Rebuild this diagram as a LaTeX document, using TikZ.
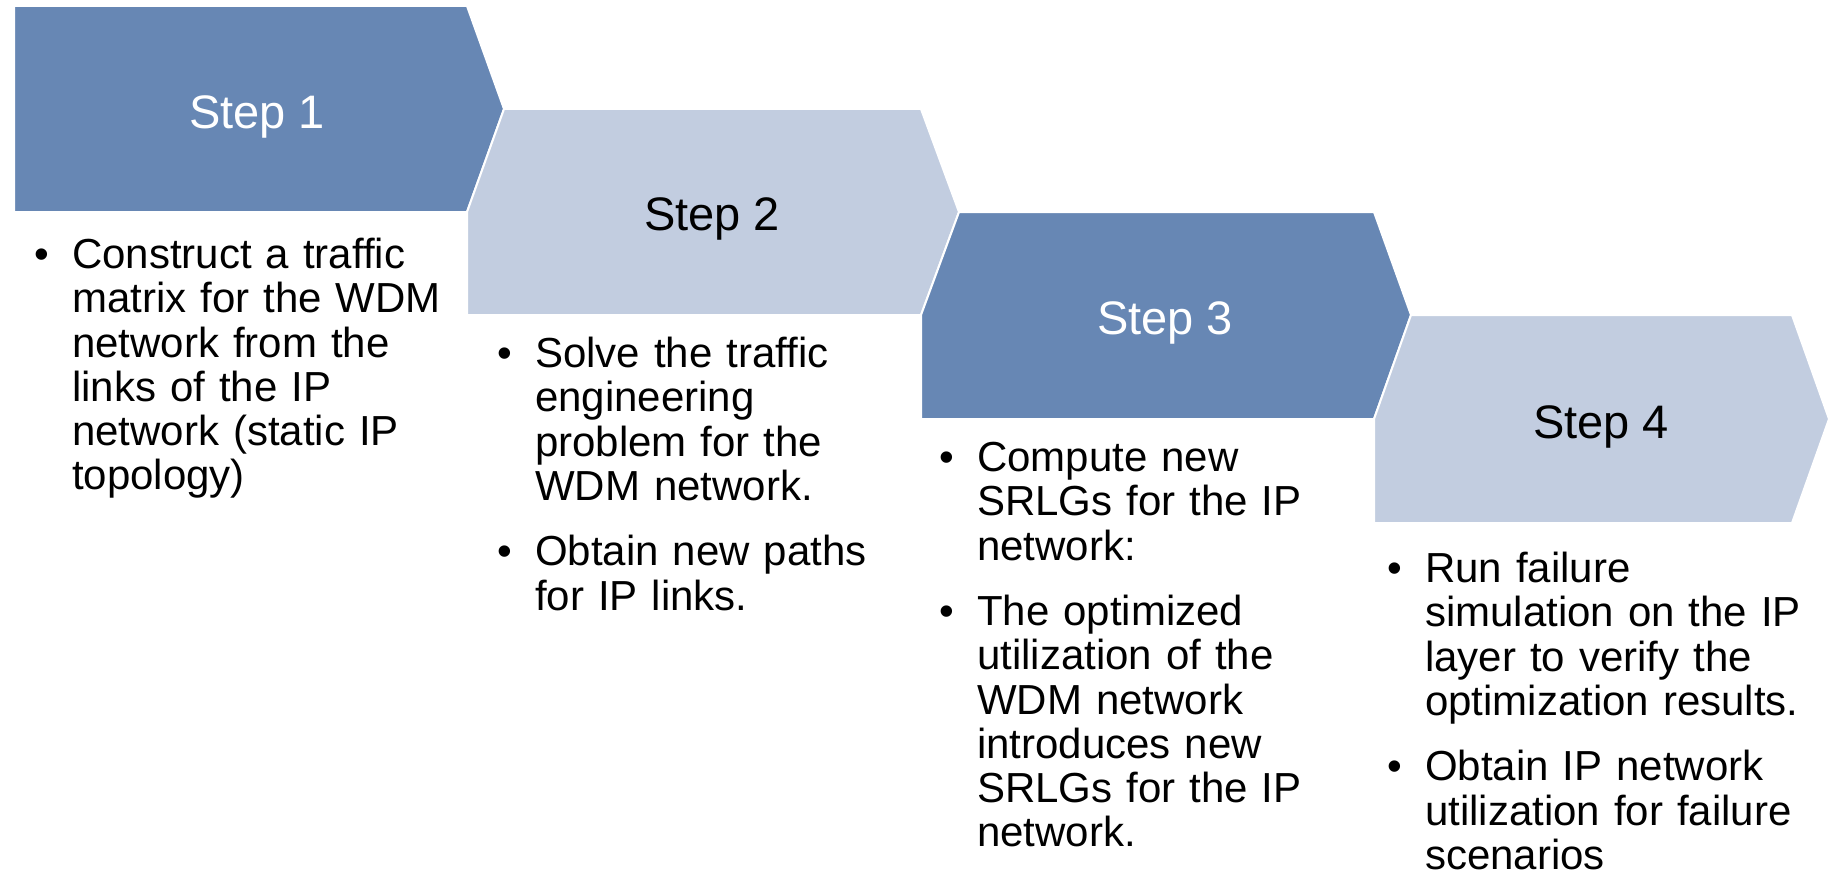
\documentclass[tikz,border=0pt]{standalone}
\usepackage{fontspec}
\setmainfont{Liberation Sans}
\usepackage{enumitem}
\setlist[itemize]{label=\textbullet, leftmargin=38pt, labelindent=0pt, labelwidth=38pt, labelsep=0pt, align=left, topsep=0pt, partopsep=0pt, parsep=0pt, itemsep=21pt}
\definecolor{darkstep}{RGB}{103,135,180}
\definecolor{lightstep}{RGB}{194,205,224}

\begin{document}
\begin{tikzpicture}[x=1pt, y=-1pt,
    chevron/.style={draw=white, line width=2pt},
    steplabel/.style={font=\fontsize{47}{50}\selectfont},
    bullets/.style={anchor=north west, inner sep=0pt, text width=440pt, align=left, font=\fontsize{42}{44.3}\selectfont}]
    \useasboundingbox (0,0) rectangle (1829,872);
    % the four chevrons
    \filldraw[chevron, fill=darkstep] (14,6) -- (467,6) -- (504,109) -- (467,212) -- (14,212) -- cycle;
    \filldraw[chevron, fill=lightstep] (504,109) -- (921,109) -- (959,212) -- (921,315) -- (467,315) -- (467,212) -- cycle;
    \filldraw[chevron, fill=darkstep] (959,212) -- (1374,212) -- (1411,315) -- (1374,419) -- (921,419) -- (921,315) -- cycle;
    \filldraw[chevron, fill=lightstep] (1411,315) -- (1792,315) -- (1829,419) -- (1792,523) -- (1374,523) -- (1374,419) -- cycle;
    % step titles
    \node[steplabel, text=white] (step1) at (257,117) {Step 1};
    \node[steplabel] (step2) at (712,219) {Step 2};
    \node[steplabel, text=white] (step3) at (1165,323) {Step 3};
    \node[steplabel] (step4) at (1601,427) {Step 4};
    % bullet lists
    \node[bullets] (list1) at (34,224) {\begin{itemize}
        \item Construct a traffic\\ matrix for the WDM\\ network from the\\ links of the IP\\ network (static IP\\ topology)
    \end{itemize}};
    \node[bullets] (list2) at (497,323) {\begin{itemize}
        \item Solve the traffic\\ engineering\\ problem for the\\ WDM network.
        \item Obtain new paths\\ for IP links.
    \end{itemize}};
    \node[bullets] (list3) at (939,427) {\begin{itemize}
        \item Compute new\\ SRLGs for the IP\\ network:
        \item The optimized\\ utilization of the\\ WDM network\\ introduces new\\ SRLGs for the IP\\ network.
    \end{itemize}};
    \node[bullets] (list4) at (1387,538) {\begin{itemize}
        \item Run failure\\ simulation on the IP\\ layer to verify the\\ optimization results.
        \item Obtain IP network\\ utilization for failure\\ scenarios
    \end{itemize}};
\end{tikzpicture}
\end{document}
